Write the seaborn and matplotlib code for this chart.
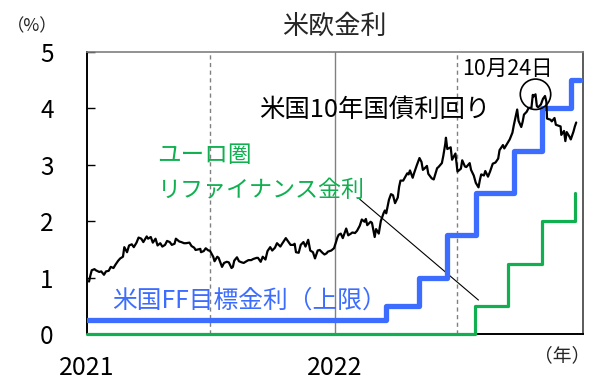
import matplotlib
matplotlib.use("Agg")
import matplotlib.pyplot as plt
import matplotlib.transforms as mtransforms
import seaborn as sns
import pandas as pd

# ---------------- data ----------------
us10y_dates = [
    "2021-01-04", "2021-01-06", "2021-01-08", "2021-01-12", "2021-01-14", "2021-01-19", "2021-01-22",
    "2021-01-26", "2021-01-29", "2021-02-02", "2021-02-05", "2021-02-09", "2021-02-12", "2021-02-16",
    "2021-02-19", "2021-02-23", "2021-02-25", "2021-03-01", "2021-03-04", "2021-03-08", "2021-03-11",
    "2021-03-15", "2021-03-18", "2021-03-22", "2021-03-25", "2021-03-30", "2021-04-01", "2021-04-05",
    "2021-04-08", "2021-04-12", "2021-04-15", "2021-04-19", "2021-04-22", "2021-04-26", "2021-04-29",
    "2021-05-03", "2021-05-06", "2021-05-10", "2021-05-12", "2021-05-17", "2021-05-20", "2021-05-24",
    "2021-05-27", "2021-06-01", "2021-06-04", "2021-06-08", "2021-06-10", "2021-06-14", "2021-06-17",
    "2021-06-18", "2021-06-22", "2021-06-25", "2021-06-29", "2021-07-01", "2021-07-06", "2021-07-08",
    "2021-07-12", "2021-07-14", "2021-07-19", "2021-07-22", "2021-07-26", "2021-07-29", "2021-08-02",
    "2021-08-04", "2021-08-06", "2021-08-10", "2021-08-13", "2021-08-17", "2021-08-20", "2021-08-24",
    "2021-08-27", "2021-08-31", "2021-09-03", "2021-09-08", "2021-09-10", "2021-09-14", "2021-09-17",
    "2021-09-21", "2021-09-24", "2021-09-28", "2021-10-01", "2021-10-05", "2021-10-08", "2021-10-13",
    "2021-10-15", "2021-10-21", "2021-10-25", "2021-10-28", "2021-11-01", "2021-11-03", "2021-11-05",
    "2021-11-09", "2021-11-12", "2021-11-16", "2021-11-19", "2021-11-23", "2021-11-26", "2021-11-30",
    "2021-12-03", "2021-12-07", "2021-12-10", "2021-12-14", "2021-12-17", "2021-12-20", "2021-12-22",
    "2021-12-27", "2021-12-31",
    "2022-01-03", "2022-01-05", "2022-01-07", "2022-01-10", "2022-01-13", "2022-01-18", "2022-01-21",
    "2022-01-25", "2022-01-27", "2022-01-31", "2022-02-03", "2022-02-07", "2022-02-10", "2022-02-14",
    "2022-02-16", "2022-02-18", "2022-02-23", "2022-02-25", "2022-03-01", "2022-03-03", "2022-03-07",
    "2022-03-10", "2022-03-14", "2022-03-16", "2022-03-18", "2022-03-22", "2022-03-25", "2022-03-28",
    "2022-03-31", "2022-04-04", "2022-04-06", "2022-04-08", "2022-04-12", "2022-04-18", "2022-04-20",
    "2022-04-22", "2022-04-26", "2022-04-28", "2022-05-02", "2022-05-06", "2022-05-09", "2022-05-11",
    "2022-05-13", "2022-05-17", "2022-05-19", "2022-05-24", "2022-05-27", "2022-06-01", "2022-06-03",
    "2022-06-08", "2022-06-10", "2022-06-13", "2022-06-14", "2022-06-16", "2022-06-21", "2022-06-23",
    "2022-06-28", "2022-06-30", "2022-07-01", "2022-07-06", "2022-07-08", "2022-07-12", "2022-07-14",
    "2022-07-19", "2022-07-21", "2022-07-25", "2022-07-28", "2022-08-01", "2022-08-03", "2022-08-05",
    "2022-08-09", "2022-08-11", "2022-08-15", "2022-08-18", "2022-08-22", "2022-08-26", "2022-08-30",
    "2022-09-01", "2022-09-06", "2022-09-08", "2022-09-12", "2022-09-14", "2022-09-16", "2022-09-20",
    "2022-09-22", "2022-09-26", "2022-09-27", "2022-09-29", "2022-10-03", "2022-10-05", "2022-10-07",
    "2022-10-11", "2022-10-14", "2022-10-18", "2022-10-20", "2022-10-21", "2022-10-24", "2022-10-26",
    "2022-10-28", "2022-11-01", "2022-11-03", "2022-11-04", "2022-11-07", "2022-11-09", "2022-11-10",
    "2022-11-15", "2022-11-17", "2022-11-21", "2022-11-23", "2022-11-28", "2022-11-30", "2022-12-01",
    "2022-12-05", "2022-12-07", "2022-12-09", "2022-12-13", "2022-12-15", "2022-12-19", "2022-12-21",
    "2022-12-23",
]
us10y_values = [
    0.93, 1.04, 1.13, 1.15, 1.13, 1.10, 1.11,
    1.05, 1.11, 1.12, 1.19, 1.17, 1.23, 1.30,
    1.34, 1.37, 1.54, 1.45, 1.57, 1.59, 1.54,
    1.62, 1.71, 1.69, 1.63, 1.73, 1.69, 1.72,
    1.62, 1.69, 1.57, 1.61, 1.55, 1.58, 1.65,
    1.63, 1.58, 1.60, 1.69, 1.64, 1.63, 1.61,
    1.61, 1.62, 1.56, 1.53, 1.49, 1.50, 1.51,
    1.45, 1.47, 1.52, 1.48, 1.48, 1.37, 1.29,
    1.37, 1.35, 1.19, 1.26, 1.28, 1.27, 1.17,
    1.19, 1.30, 1.36, 1.29, 1.27, 1.26, 1.29,
    1.31, 1.31, 1.33, 1.35, 1.35, 1.28, 1.37,
    1.32, 1.47, 1.54, 1.48, 1.53, 1.61, 1.55,
    1.59, 1.70, 1.63, 1.58, 1.58, 1.60, 1.45,
    1.44, 1.58, 1.63, 1.55, 1.67, 1.48, 1.45,
    1.34, 1.48, 1.49, 1.44, 1.41, 1.43, 1.46,
    1.48, 1.52,
    1.63, 1.71, 1.76, 1.78, 1.70, 1.87, 1.75,
    1.78, 1.80, 1.79, 1.83, 1.92, 2.03, 1.99,
    2.04, 1.93, 1.99, 1.97, 1.72, 1.86, 1.78,
    2.00, 2.14, 2.19, 2.14, 2.38, 2.48, 2.46,
    2.32, 2.42, 2.61, 2.72, 2.72, 2.85, 2.83,
    2.90, 2.77, 2.85, 2.99, 3.12, 3.05, 2.91,
    2.93, 2.98, 2.84, 2.76, 2.74, 2.94, 2.96,
    3.03, 3.15, 3.37, 3.48, 3.28, 3.31, 3.09,
    3.20, 2.98, 2.88, 2.93, 3.08, 2.97, 2.96,
    3.03, 2.91, 2.81, 2.68, 2.60, 2.73, 2.83,
    2.81, 2.89, 2.79, 2.88, 3.02, 3.04, 3.11,
    3.26, 3.35, 3.29, 3.37, 3.41, 3.45, 3.57,
    3.70, 3.93, 3.98, 3.78, 3.67, 3.76, 3.89,
    3.94, 4.01, 4.01, 4.24, 4.21, 4.25, 4.04,
    4.02, 4.07, 4.14, 4.17, 4.22, 4.12, 3.82,
    3.80, 3.77, 3.83, 3.71, 3.69, 3.68, 3.53,
    3.60, 3.42, 3.58, 3.50, 3.45, 3.59, 3.68,
    3.75,
]

ff_dates = ["2021-01-01", "2022-03-17", "2022-05-05", "2022-06-16", "2022-07-28",
            "2022-09-22", "2022-11-03", "2022-12-15", "2022-12-28"]
ff_values = [0.25, 0.50, 1.00, 1.75, 2.50, 3.25, 4.00, 4.50, 4.50]

ecb_dates = ["2021-01-01", "2022-07-27", "2022-09-14", "2022-11-02", "2022-12-21"]
ecb_values = [0.00, 0.50, 1.25, 2.00, 2.50]

peak_date = "2022-10-24"
year_labels = ["2021", "2022"]

# ---------------- frames ----------------
df10 = pd.DataFrame({"date": pd.to_datetime(us10y_dates), "rate": us10y_values})
dff = pd.DataFrame({"date": pd.to_datetime(ff_dates), "rate": ff_values})
decb = pd.DataFrame({"date": pd.to_datetime(ecb_dates), "rate": ecb_values})
peak = df10[df10["date"] == pd.Timestamp(peak_date)]

# ---------------- style ----------------
sns.set_theme(style="white")
plt.rcParams["font.family"] = ["Noto Sans CJK JP", "DejaVu Sans"]

BLUE = "#3D6DFF"
GREEN = "#10B050"

fig = plt.figure(figsize=(5.9, 3.81), dpi=100)
ax = fig.add_axes([87 / 590, 1 - 334 / 381, (583 - 87) / 590, (334 - 52) / 381])

# reference vertical lines
for d, ls in [("2021-07-01", (0, (3, 2.5))), ("2022-01-01", "-"), ("2022-07-01", (0, (3, 2.5)))]:
    ax.axvline(pd.Timestamp(d), color="#808080", lw=1.0, ls=ls, zorder=1)

sns.lineplot(data=decb, x="date", y="rate", ax=ax, color=GREEN, lw=2.3,
             drawstyle="steps-post", clip_on=False, zorder=3)
sns.lineplot(data=dff, x="date", y="rate", ax=ax, color=BLUE, lw=3.8,
             drawstyle="steps-post", zorder=4)
sns.lineplot(data=df10, x="date", y="rate", ax=ax, color="black", lw=1.6, zorder=5)
sns.scatterplot(data=peak, x="date", y="rate", ax=ax, marker="o", s=480,
                facecolor="none", edgecolor="black", linewidth=1.2, zorder=6)

ax.set_xlim(pd.Timestamp("2021-01-01"), pd.Timestamp("2023-01-02"))
ax.set_ylim(0, 5)
ax.set_yticks([0, 1, 2, 3, 4, 5])
ax.set_xticks([])
ax.set_xlabel("")
ax.set_ylabel("")
ax.tick_params(axis="y", direction="in", length=6, width=1.0, color="black",
               labelsize=17.5, pad=24, left=True)
for lab in ax.get_yticklabels():
    lab.set_color("black")

ax.spines["left"].set_color("black")
ax.spines["left"].set_linewidth(1.4)
ax.spines["bottom"].set_color("black")
ax.spines["bottom"].set_linewidth(1.4)
ax.spines["top"].set_color("#7f7f7f")
ax.spines["top"].set_linewidth(1.2)
ax.spines["right"].set_color("#404040")
ax.spines["right"].set_linewidth(1.2)

# annotations
ax.text(pd.Timestamp("2021-09-11"), 3.97, "米国10年国債利回り", fontsize=18.3,
        color="black", va="center", ha="left")
ax.text(pd.Timestamp("2021-04-15"), 3.17, "ユーロ圏", fontsize=17,
        color=GREEN, va="center", ha="left")
ax.text(pd.Timestamp("2021-04-15"), 2.55, "リファイナンス金利", fontsize=16.6,
        color=GREEN, va="center", ha="left")
ax.text(pd.Timestamp("2021-02-07"), 0.60, "米国FF目標金利（上限）", fontsize=17.8,
        color=BLUE, va="center", ha="left")
ax.text(pd.Timestamp("2022-07-08"), 4.70, "10月24日", fontsize=15.5,
        color="black", va="center", ha="left")
ax.annotate("", xy=(pd.Timestamp("2022-08-04"), 0.57),
            xytext=(pd.Timestamp("2022-02-04"), 2.42),
            arrowprops=dict(arrowstyle="-", color="black", lw=0.8))

# year labels under the axis
trans = mtransforms.blended_transform_factory(ax.transData, fig.transFigure)
for y in year_labels:
    ax.text(pd.Timestamp(f"{y}-01-01"), 1 - 368 / 381, y, transform=trans,
            fontsize=18, ha="center", va="center", color="black")

fig.text(0.953, 1 - 356 / 381, "（年）", fontsize=13.5, ha="center", va="center")
fig.text(32 / 590, 1 - 26 / 381, "（%）", fontsize=12.5, ha="center", va="center")
fig.text(334 / 590, 1 - 26 / 381, "米欧金利", fontsize=18.8, ha="center", va="center")

fig.savefig("out.png", dpi=100)
